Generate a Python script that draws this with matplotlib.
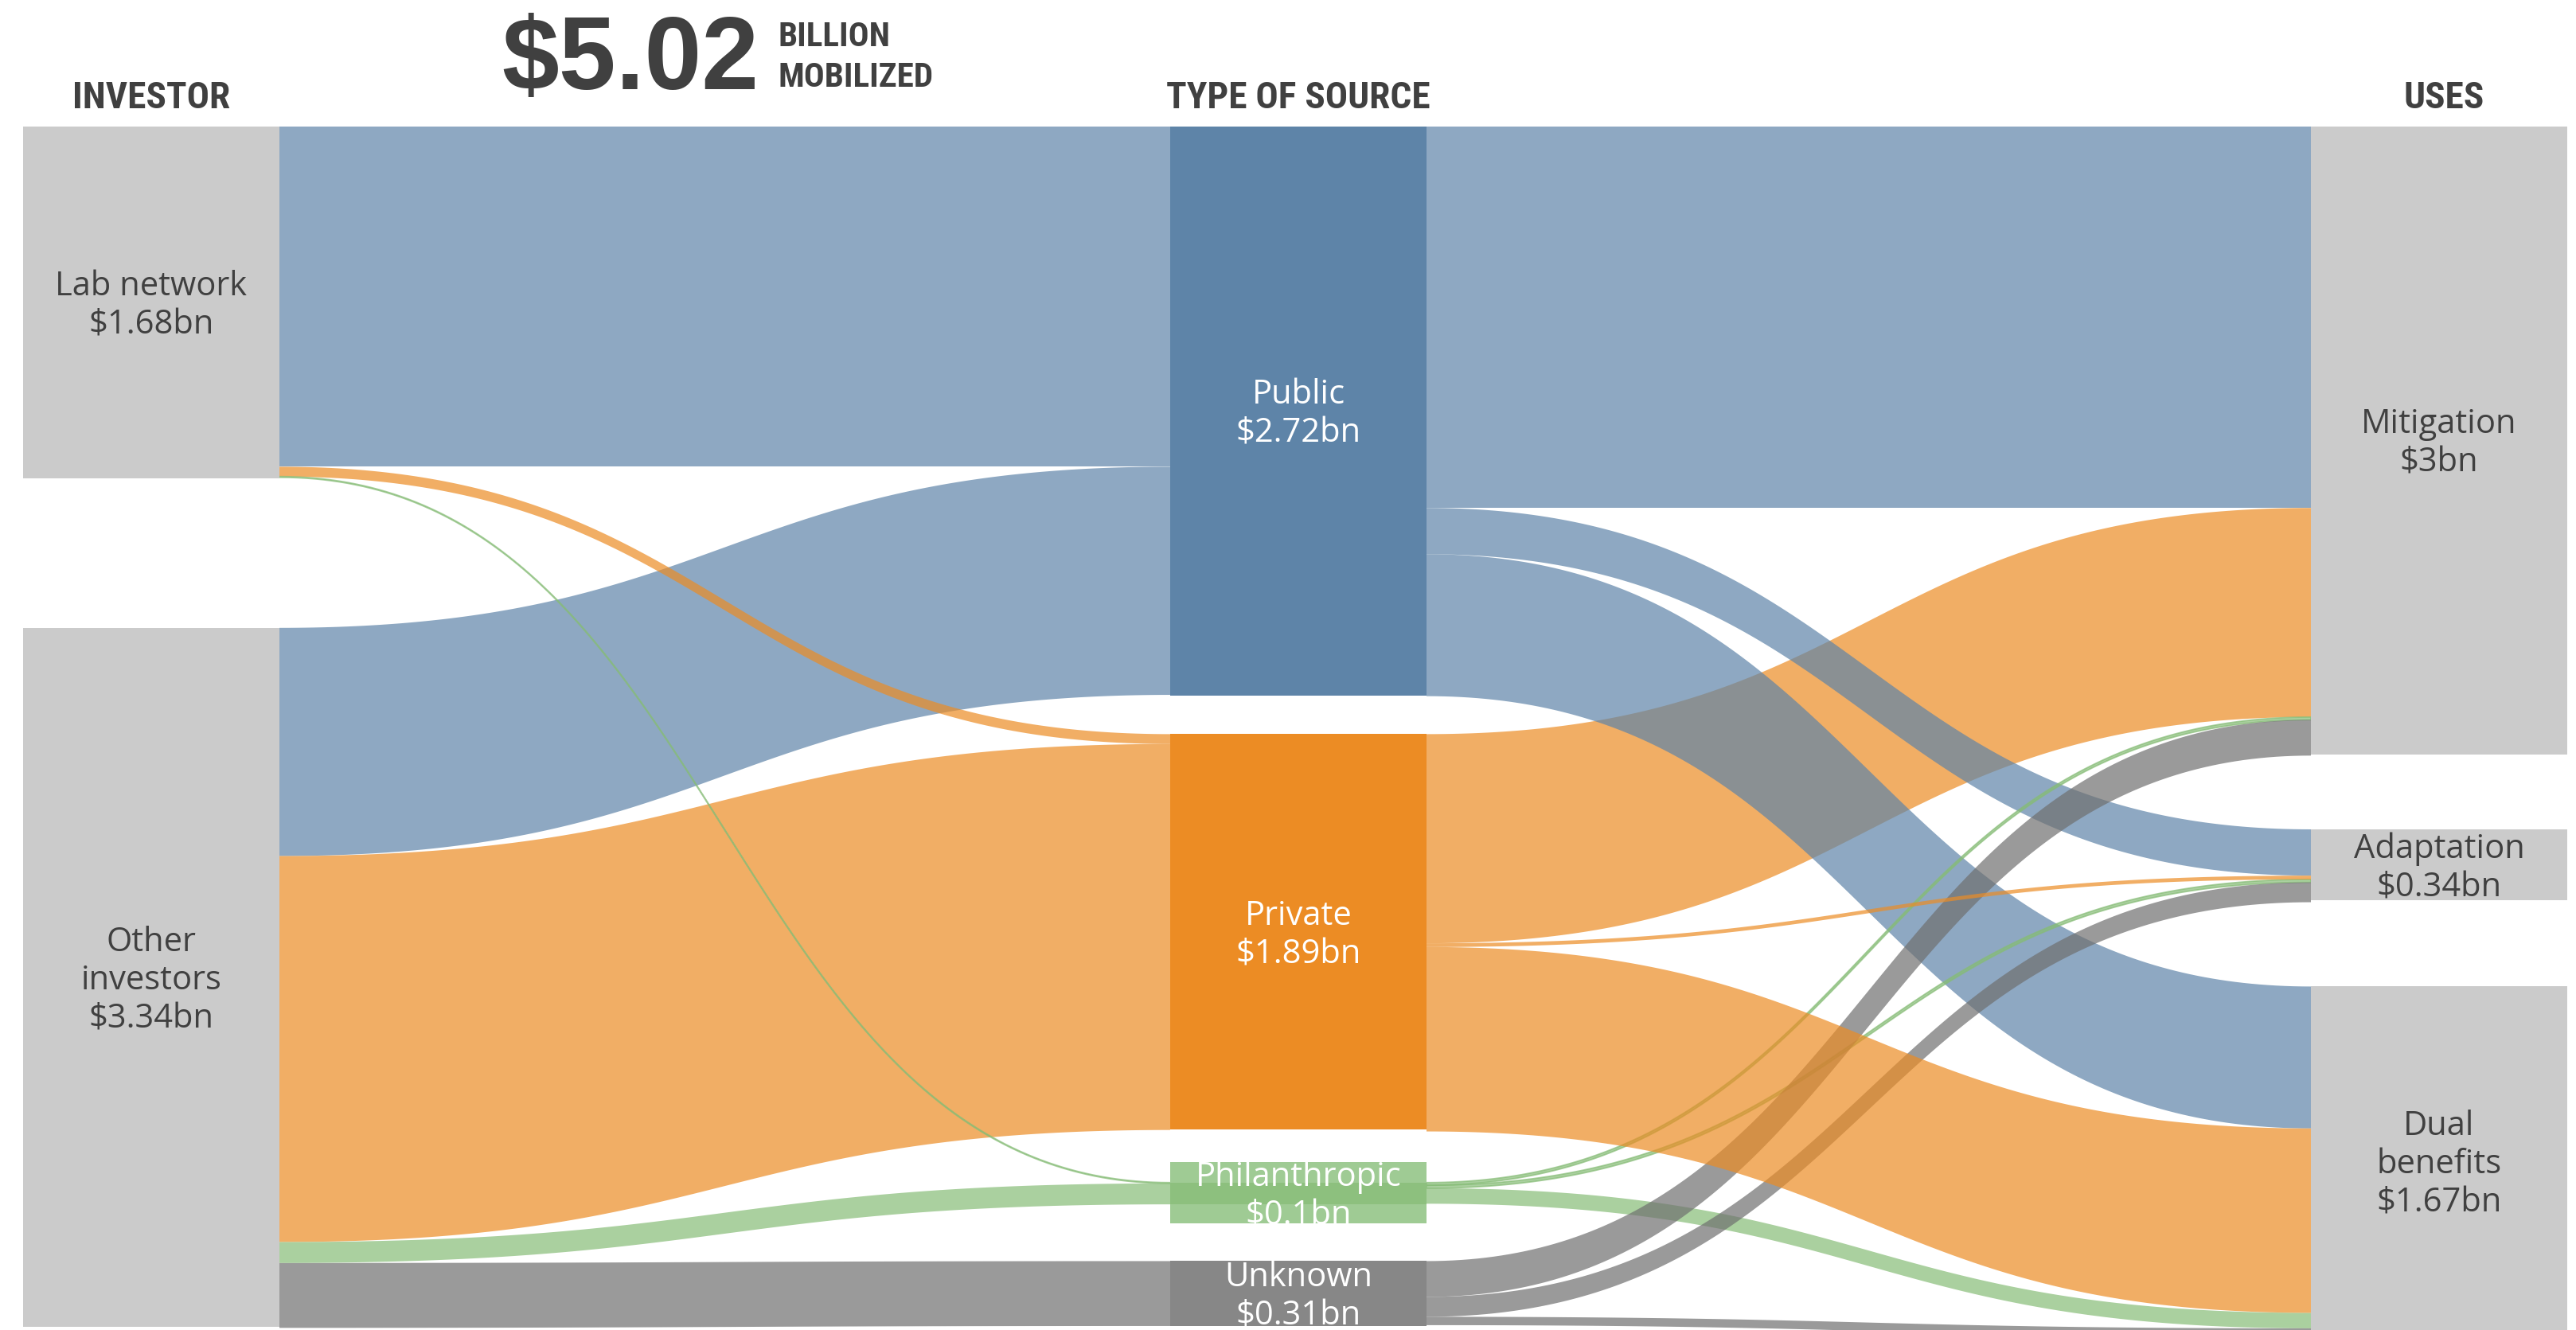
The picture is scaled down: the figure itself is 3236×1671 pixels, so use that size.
import numpy as np
import matplotlib
matplotlib.use('Agg')
import matplotlib.pyplot as plt
from matplotlib import font_manager as fm

# ---- data (billions of dollars) ----
investor_names = ['Lab network', 'Other\ninvestors']
investor_values = [1.68, 3.34]
source_names = ['Public', 'Private', 'Philanthropic', 'Unknown']
source_values = [2.72, 1.89, 0.1, 0.31]
use_names = ['Mitigation', 'Adaptation', 'Dual\nbenefits']
use_values = [3, 0.34, 1.67]

# rows: investors, cols: type of source
investor_to_source = [[1.625, 0.047, 0.004, 0.0],
                      [1.09, 1.844, 0.10, 0.31]]
# rows: type of source, cols: uses
source_to_use = [[1.822, 0.221, 0.678],
                 [0.999, 0.018, 0.881],
                 [0.013, 0.014, 0.074],
                 [0.171, 0.095, 0.040]]

total_text = '$5.02'
headers = ['INVESTOR', 'TYPE OF SOURCE', 'USES']

# ---- layout ----
W, H = 3237, 1671
SCALE = 263          # pixels per billion
TOP = 159
NODE_W = 322
col_x = [29, 1470, 2903]
col_gaps = [[188], [48, 41, 47], [94, 108]]
MIN_NODE_H = 77

GRAY_NODE = '#cbcbcb'
TEXT_DARK = '#404040'
node_colors = ['#5e84a8', '#ec8c24', '#9fcb94', '#878787']
link_colors = ['#5e84a8', '#ec8c24', '#86bc76', '#6f6f6f']
LINK_ALPHA = 0.7
left_z = [1, 2, 3, 1]
right_z = [[1, 2, 2], [1, 4, 4], [2.5, 2.5, 2.5], [3, 3, 3]]

# ---- fonts ----
ttf = fm.fontManager.ttflist
names = {f.name for f in ttf}


def pick(*cands):
    for c in cands:
        if c in names:
            return c
    return 'DejaVu Sans'


narrow = None
for n in ['Liberation Sans Narrow', 'Roboto Condensed', 'Open Sans Condensed']:
    if n in names:
        narrow = dict(family=n)
        break
if narrow is None:
    for fam in ['Noto Sans', 'DejaVu Sans', 'Open Sans', 'Roboto']:
        if any(f.name == fam and 'condensed' in str(f.stretch) for f in ttf):
            narrow = dict(family=fam, fontstretch='condensed')
            break
narrow_scale = 1.0
if narrow is None:
    narrow = dict(family=pick('Liberation Sans'))
    narrow_scale = 0.8

label_family = pick('Open Sans', 'Lato', 'Liberation Sans')
big_family = pick('Liberation Sans', 'Roboto')


def stack(values, gaps, min_h=0):
    tops, heights = [], []
    y = TOP
    for i, v in enumerate(values):
        h = max(v * SCALE, min_h)
        tops.append(y)
        heights.append(h)
        if i < len(gaps):
            y += h + gaps[i]
    return tops, heights


def band(ax, x0, y0t, y0b, x1, y1t, y1b, color, z):
    t = np.linspace(0, 1, 150)
    xm = (x0 + x1) / 2
    bx = (1 - t) ** 3 * x0 + 3 * (1 - t) ** 2 * t * xm + 3 * (1 - t) * t ** 2 * xm + t ** 3 * x1
    s = 3 * (1 - t) * t ** 2 + t ** 3
    yt = y0t + (y1t - y0t) * s
    yb = y0b + (y1b - y0b) * s
    lw = 1.3 if (y0b - y0t) < 4 else 0   # keep hairline flows visible
    ax.fill(np.concatenate([bx, bx[::-1]]), np.concatenate([yt, yb[::-1]]),
            facecolor=color, edgecolor=color, alpha=LINK_ALPHA, lw=lw, zorder=z)


fig = plt.figure(figsize=(W / 100, H / 100), dpi=100)
ax = fig.add_axes([0, 0, 1, 1])
ax.set_xlim(0, W)
ax.set_ylim(H, 0)
ax.axis('off')

inv_top, inv_h = stack(investor_values, col_gaps[0])
src_top, src_h = stack(source_values, col_gaps[1], MIN_NODE_H)
use_top, use_h = stack(use_values, col_gaps[2])

# start offsets (centre flows in enlarged nodes)
inv_cur = [t + (h - v * SCALE) / 2 for t, h, v in zip(inv_top, inv_h, investor_values)]
src_in = [t + (h - v * SCALE) / 2 for t, h, v in zip(src_top, src_h, source_values)]
src_out = list(src_in)
use_cur = [t + (h - v * SCALE) / 2 for t, h, v in zip(use_top, use_h, use_values)]

# investor -> source links
for i in range(len(investor_values)):
    for j in range(len(source_values)):
        v = investor_to_source[i][j]
        if v <= 0:
            continue
        d = v * SCALE
        band(ax, col_x[0] + NODE_W, inv_cur[i], inv_cur[i] + d,
             col_x[1], src_in[j], src_in[j] + d, link_colors[j], left_z[j])
        inv_cur[i] += d
        src_in[j] += d

# source -> use links
for j in range(len(source_values)):
    for k in range(len(use_values)):
        v = source_to_use[j][k]
        if v <= 0:
            continue
        d = v * SCALE
        band(ax, col_x[1] + NODE_W, src_out[j], src_out[j] + d,
             col_x[2], use_cur[k], use_cur[k] + d, link_colors[j], right_z[j][k])
        src_out[j] += d
        use_cur[k] += d

label_kw = dict(family=label_family, fontsize=30, ha='center', va='center',
                linespacing=1.2, zorder=10)

# nodes
for i, v in enumerate(investor_values):
    ax.add_patch(plt.Rectangle((col_x[0], inv_top[i]), NODE_W, inv_h[i],
                               color=GRAY_NODE, lw=0, zorder=5))
    ax.text(col_x[0] + NODE_W / 2, inv_top[i] + inv_h[i] / 2 + 4,
            f'{investor_names[i]}\n${v:g}bn', color=TEXT_DARK, **label_kw)

for j, v in enumerate(source_values):
    ax.add_patch(plt.Rectangle((col_x[1], src_top[j]), NODE_W, src_h[j],
                               color=node_colors[j], lw=0, zorder=5))
    if src_h[j] > v * SCALE + 1:
        y0 = src_top[j] + (src_h[j] - v * SCALE) / 2
        ax.add_patch(plt.Rectangle((col_x[1], y0), NODE_W, src_in[j] - y0,
                                   color=link_colors[j], alpha=LINK_ALPHA,
                                   lw=0, zorder=6))
    ax.text(col_x[1] + NODE_W / 2, src_top[j] + src_h[j] / 2 + 4,
            f'{source_names[j]}\n${v:g}bn', color='white', **label_kw)

for k, v in enumerate(use_values):
    ax.add_patch(plt.Rectangle((col_x[2], use_top[k]), NODE_W, use_h[k],
                               color=GRAY_NODE, lw=0, zorder=5))
    ax.text(col_x[2] + NODE_W / 2, use_top[k] + use_h[k] / 2 + 4,
            f'{use_names[k]}\n${v:g}bn', color=TEXT_DARK, **label_kw)

# headers
head_x = [col_x[0] + NODE_W / 2, col_x[1] + NODE_W / 2, 3070]
for x, t in zip(head_x, headers):
    ax.text(x, 136, t, color=TEXT_DARK, fontsize=34 * narrow_scale,
            fontweight='bold', ha='center', va='baseline', **narrow)

ax.text(630, 112, total_text, color=TEXT_DARK, fontsize=93, fontweight='bold',
        family=big_family, ha='left', va='baseline')
ax.text(978, 58, 'BILLION', color=TEXT_DARK, fontsize=31 * narrow_scale,
        fontweight='bold', ha='left', va='baseline', **narrow)
ax.text(978, 109, 'MOBILIZED', color=TEXT_DARK, fontsize=31 * narrow_scale,
        fontweight='bold', ha='left', va='baseline', **narrow)

fig.savefig('out.png', dpi=100)
